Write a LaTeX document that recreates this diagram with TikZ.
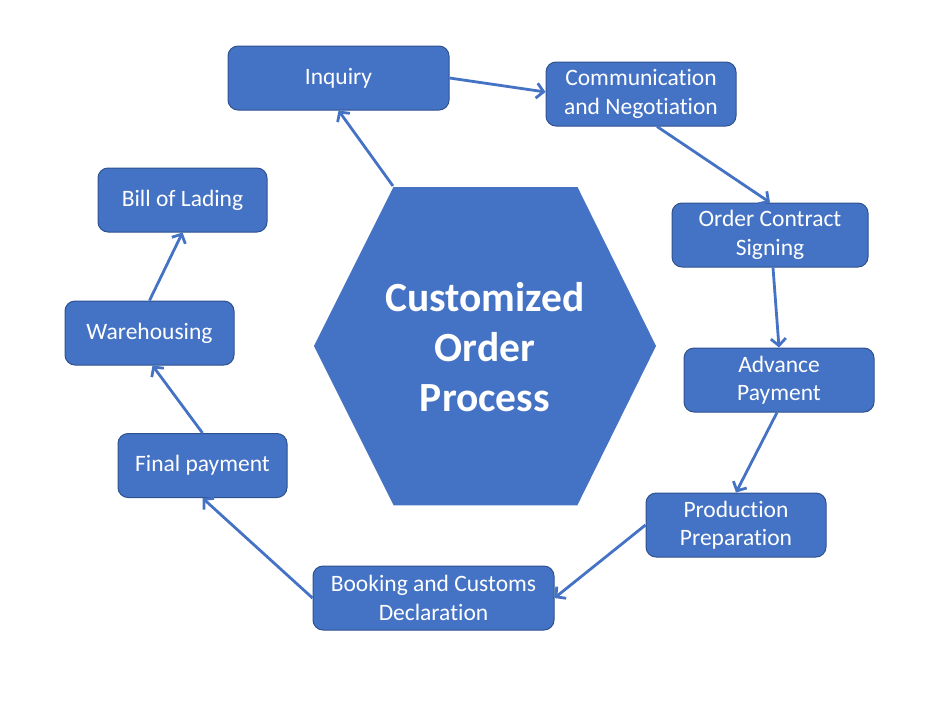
\documentclass[tikz,border=0pt]{standalone}
\usepackage{fontspec}
\setmainfont{Carlito}[Ligatures=NoCommon]
\usepackage{xcolor}
\usepackage{tikz}
\usetikzlibrary{arrows.meta}
\definecolor{office}{HTML}{4472C4}
\definecolor{officedark}{HTML}{2F528F}

\begin{document}
\begin{tikzpicture}[
  x=1pt, y=-1pt,
  stage/.style={rectangle, rounded corners=10pt, draw=officedark, line width=1pt,
    fill=office, text=white, inner sep=0pt, minimum height=64pt,
    align=center, font=\fontsize{23.5}{28.5}\selectfont},
  flow/.style={draw=office, line width=2.8pt,
    -{Straight Barb[length=7pt,width=15pt]}}]
  \useasboundingbox (0,0) rectangle (951,713);
  % central hexagon
  \coordinate (hubtl) at (393,186);
  \filldraw[fill=office, draw=white, line width=1.5pt]
    (hubtl) -- (578,186) -- (657,346) -- (578,506) -- (393,506) -- (313,346) -- cycle;
  \node[text=white, align=center, font=\fontsize{41.5}{50}\selectfont\bfseries]
    (hub) at (485,347) {Customized\\Order\\Process};
  % stages
  \node[stage, minimum width=221pt] (inquiry) at (338.5,78) {Inquiry};
  \node[stage, minimum width=190pt] (comm) at (641,94) {Communication\\and Negotiation};
  \node[stage, minimum width=196pt] (order) at (770,235) {Order Contract\\Signing};
  \node[stage, minimum width=190pt] (advance) at (779,380) {Advance\\Payment};
  \node[stage, minimum width=180pt] (production) at (736,525) {Production\\Preparation};
  \node[stage, minimum width=241pt] (booking) at (433.5,598) {Booking and Customs\\Declaration};
  \node[stage, minimum width=169pt] (final) at (202.5,465.5) {Final payment};
  \node[stage, minimum width=169pt] (warehousing) at (149.5,333) {Warehousing};
  \node[stage, minimum width=169pt] (bill) at (182.5,200) {Bill of Lading};
  % connectors
  \draw[flow] (hubtl) -- (inquiry.south);
  \draw[flow] (inquiry.east) -- ([yshift=2pt]comm.west);
  \draw[flow] ([xshift=16pt]comm.south) -- (order.north);
  \draw[flow] ([xshift=3pt]order.south) -- (advance.north);
  \draw[flow] ([xshift=-2pt]advance.south) -- (production.north);
  \draw[flow] (production.west) -- (booking.east);
  \draw[flow] (booking.west) -- (final.south);
  \draw[flow] (final.north) -- ([xshift=3pt]warehousing.south);
  \draw[flow] (warehousing.north) -- (bill.south);
\end{tikzpicture}
\end{document}
